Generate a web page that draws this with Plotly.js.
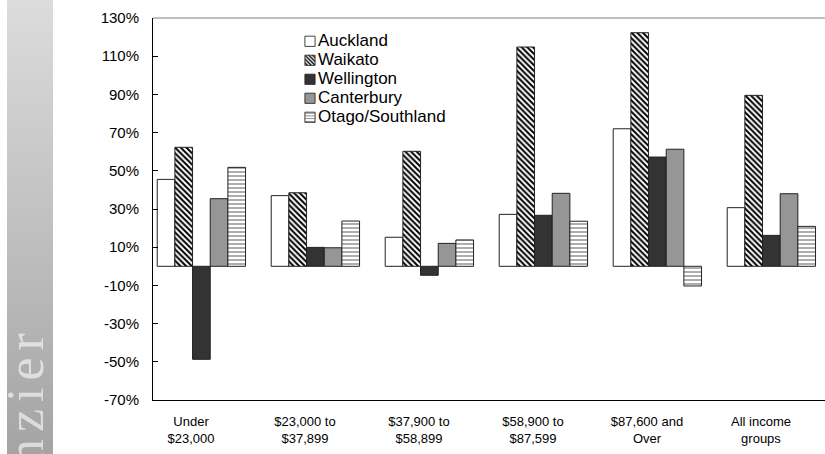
<!DOCTYPE html>
<html>
<head>
<meta charset="utf-8">
<script src="https://cdn.plot.ly/plotly-3.0.1.min.js"></script>
<style>
  html, body { margin:0; padding:0; background:#ffffff; width:825px; height:454px; overflow:hidden; }
  #band { position:absolute; left:7px; top:0; width:46px; height:454px;
          background:linear-gradient(#dcdcdc, #a4a4a4); }
  #mark { position:absolute; left:0px; top:465px; transform-origin:0 0; transform:rotate(-90deg);
          white-space:nowrap; font-family:"Liberation Serif", serif; font-size:52px; line-height:52px;
          letter-spacing:7px; color:rgba(255,255,255,0.6); }
  #chart { position:absolute; left:0; top:0; width:825px; height:454px; }
  #chart .legendtext { font-size:17px !important; }
  #chart .legendpoints path { transform:translate(32px, 0px) scale(0.85); }
  #chart .legend, #chart .legend .scrollbox, #chart .legend g { clip-path:none !important; }
</style>
</head>
<body>
<div id="band"></div>
<div id="mark">nzier</div>
<div id="chart"></div>
<script>
// ---- data ----
const categories = ['Under<br>$23,000', '$23,000 to<br>$37,899', '$37,900 to<br>$58,899',
                    '$58,900 to<br>$87,599', '$87,600 and<br>Over', 'All income<br>groups'];
const auckland   = [45.5, 37.0, 15.2, 27.2, 72.0, 30.7];
const waikato    = [62.3, 38.5, 60.2, 114.8, 122.3, 89.5];
const wellington = [-48.7, 9.9, -4.7, 26.7, 57.2, 16.2];
const canterbury = [35.4, 9.7, 12.0, 38.2, 61.3, 38.0];
const otago      = [51.8, 23.7, 13.8, 23.6, -10.3, 20.9];
const seriesNames = ['Auckland', 'Waikato', 'Wellington', 'Canterbury', 'Otago/Southland'];
const yTickVals = [-70, -50, -30, -10, 10, 30, 50, 70, 90, 110, 130];
const yTickText = ['-70%', '-50%', '-30%', '-10%', '10%', '30%', '50%', '70%', '90%', '110%', '130%'];
const boundaryTicks = [0.5, 1.5, 2.5, 3.5, 4.5];

// ---- styles ----
const barW = 0.155;
const startOff = -0.463;
const styles = [
  {color:'#ffffff'},
  {color:'#ffffff', pattern:{shape:'\\', fgcolor:'#000000', bgcolor:'#ffffff', size:4, solidity:0.5}},
  {color:'#333333'},
  {color:'#969696'},
  {color:'#ffffff', pattern:{shape:'-', fgcolor:'#777777', bgcolor:'#ffffff', size:4, solidity:0.3}}
];
const values = [auckland, waikato, wellington, canterbury, otago];

const traces = values.map((v, i) => ({
  type:'bar', name:seriesNames[i], x:categories, y:v,
  width:barW, offset:startOff + i*barW,
  marker:Object.assign({line:{color:'#222222', width:1}}, styles[i]),
  hoverinfo:'skip'
}));

const xRange = [-0.5, 5.395];
const layout = {
  width:825, height:454,
  margin:{l:153, r:0, t:18, b:54},
  paper_bgcolor:'rgba(0,0,0,0)', plot_bgcolor:'rgba(0,0,0,0)',
  font:{family:'"Liberation Sans", Arial, sans-serif', color:'#000000'},
  barmode:'overlay',
  showlegend:true,
  legend:{x:0.186, y:0.977, xanchor:'left', yanchor:'top', bgcolor:'rgba(0,0,0,0)',
          font:{size:12.3, family:'"Liberation Sans", Arial, sans-serif'}, itemwidth:30, tracegroupgap:0},
  xaxis:{type:'category', range:xRange, showgrid:false, zeroline:false, ticks:'',
         showline:true, linecolor:'#000000', linewidth:1,
         tickfont:{size:13}, ticklabelstandoff:9, ticklabelshift:-19, fixedrange:true},
  xaxis2:{overlaying:'x', anchor:'free', position:0.35, type:'linear', range:xRange,
          tickmode:'array', tickvals:boundaryTicks, ticks:'inside', ticklen:4, tickcolor:'#444444',
          showticklabels:false, showgrid:false, zeroline:false, showline:true,
          linecolor:'#777777', linewidth:1},
  yaxis:{range:[-70, 130], tickmode:'array', tickvals:yTickVals, ticktext:yTickText,
         ticks:'inside', ticklen:5, tickcolor:'#000000', showline:true, linecolor:'#000000',
         linewidth:1, showgrid:false, zeroline:false, tickfont:{size:15}, ticklabelstandoff:10,
         fixedrange:true},
  shapes:[{type:'line', xref:'paper', yref:'paper', x0:0, x1:1, y0:1, y1:1,
           line:{color:'#808080', width:1}}]
};

Plotly.newPlot('chart', traces, layout, {displayModeBar:false, staticPlot:true});
</script>
</body>
</html>
